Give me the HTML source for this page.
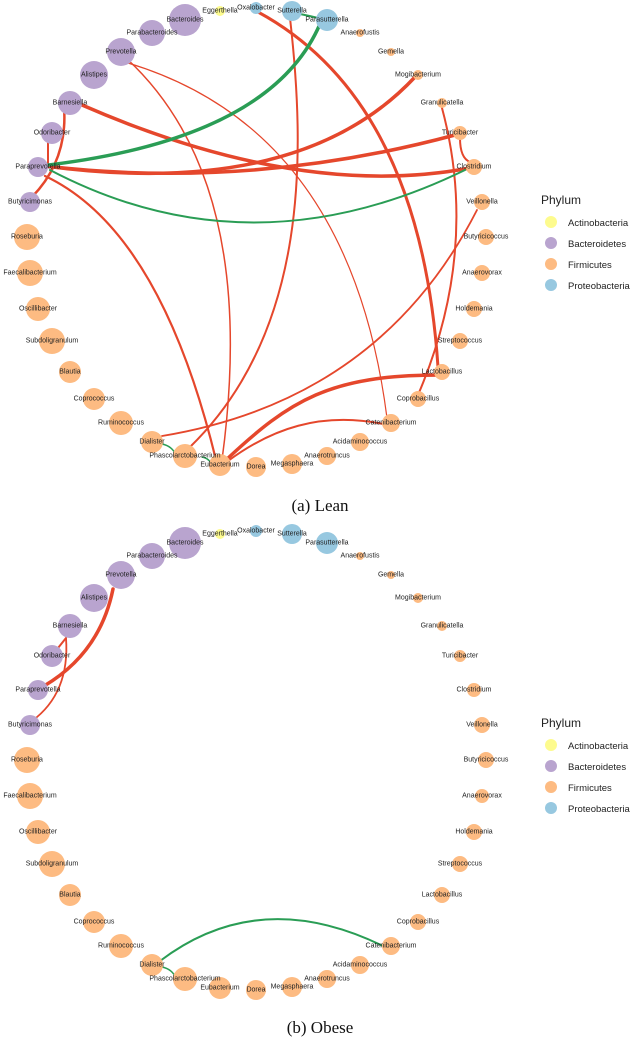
<!DOCTYPE html>
<html><head><meta charset="utf-8"><style>
html,body{margin:0;padding:0;background:#fff;}
svg{display:block;}
.l{font-family:"Liberation Sans",sans-serif;font-size:7px;fill:#222;text-anchor:middle;dominant-baseline:central;}
.r{fill:none;stroke:#e5472c;stroke-linecap:round;}
.g{fill:none;stroke:#2a9d55;stroke-linecap:round;}
.B{fill:#b9a4cf;} .F{fill:#fdbb82;} .P{fill:#97c8e0;} .A{fill:#fdfb8e;}
.leg{font-family:"Liberation Sans",sans-serif;font-size:9.5px;fill:#222;}
.cap{font-family:"Liberation Serif",serif;font-size:17px;fill:#111;text-anchor:middle;}
</style></head><body>
<svg width="640" height="1040" viewBox="0 0 640 1040" xmlns="http://www.w3.org/2000/svg">
<!-- TOP edges -->
<g>
<path class="r" stroke-width="1.5" d="M125,57 Q260,180 222,460"/>
<path class="r" stroke-width="1.2" d="M128,63 Q350,130 387,418"/>
<path class="r" stroke-width="2" d="M290,18 C305,150 310,330 190,447"/>
<path class="r" stroke-width="3" d="M258,12 Q420,100 438,367"/>
<path class="r" stroke-width="2" d="M442,108 Q480,250 418,395"/>
<path class="r" stroke-width="2" d="M460,138 Q460,158 470,162"/>
<path class="r" stroke-width="1.8" d="M477,210 Q380,400 162,436"/>
<path class="r" stroke-width="3.5" d="M226,460 C290,400 330,375 440,375"/>
<path class="r" stroke-width="2" d="M228,461 C270,430 320,410 388,425"/>
<path class="r" stroke-width="2.2" d="M45,176 Q160,230 216,460"/>
<path class="r" stroke-width="3.5" d="M82,105 Q300,200 470,168"/>
<path class="r" stroke-width="3.5" d="M45,166 Q250,190 455,135"/>
<path class="r" stroke-width="3.5" d="M45,166 Q300,200 415,77"/>
<path class="r" stroke-width="2.5" d="M64,107 Q68,160 32,197"/>
<path class="r" stroke-width="2" d="M48,142 L48,163"/>
<path class="g" stroke-width="3.5" d="M40,166 Q270,140 320,24"/>
<path class="g" stroke-width="2" d="M50,170 Q250,275 465,170"/>
<path class="g" stroke-width="1.5" d="M162,444 Q172,446 176,455"/>
<path class="g" stroke-width="1.5" d="M202,457 Q208,458 211,463"/>
<path class="g" stroke-width="2" d="M300,14 Q310,16 318,18"/>
</g>
<!-- TOP nodes -->
<g>
<circle class="B" cx="185" cy="20" r="16"/><circle class="A" cx="220" cy="11" r="5"/>
<circle class="P" cx="256" cy="8" r="6"/><circle class="P" cx="292" cy="11" r="10"/>
<circle class="P" cx="327" cy="20" r="11"/><circle class="F" cx="360" cy="33" r="4"/>
<circle class="F" cx="391" cy="52" r="4"/><circle class="F" cx="418" cy="75" r="5"/>
<circle class="F" cx="442" cy="103" r="5"/><circle class="F" cx="460" cy="133" r="7"/>
<circle class="F" cx="474" cy="167" r="8"/><circle class="F" cx="482" cy="202" r="8"/>
<circle class="F" cx="486" cy="237" r="8"/><circle class="F" cx="482" cy="273" r="8"/>
<circle class="F" cx="474" cy="309" r="8"/><circle class="F" cx="460" cy="341" r="8"/>
<circle class="F" cx="442" cy="372" r="8"/><circle class="F" cx="418" cy="399" r="8"/>
<circle class="F" cx="391" cy="423" r="9"/><circle class="F" cx="360" cy="442" r="9"/>
<circle class="F" cx="327" cy="456" r="9"/><circle class="F" cx="292" cy="464" r="10"/>
<circle class="F" cx="256" cy="467" r="10"/><circle class="F" cx="220" cy="465" r="11"/>
<circle class="F" cx="185" cy="456" r="12"/><circle class="F" cx="152" cy="442" r="11"/>
<circle class="F" cx="121" cy="423" r="12"/><circle class="F" cx="94" cy="399" r="11"/>
<circle class="F" cx="70" cy="372" r="11"/><circle class="F" cx="52" cy="341" r="13"/>
<circle class="F" cx="38" cy="309" r="12"/><circle class="F" cx="30" cy="273" r="13"/>
<circle class="F" cx="27" cy="237" r="13"/><circle class="B" cx="30" cy="202" r="10"/>
<circle class="B" cx="38" cy="167" r="10"/><circle class="B" cx="52" cy="133" r="11"/>
<circle class="B" cx="70" cy="103" r="12"/><circle class="B" cx="94" cy="75" r="14"/>
<circle class="B" cx="121" cy="52" r="14"/><circle class="B" cx="152" cy="33" r="13"/>
</g>
<g>
<text class="l" x="185" y="20">Bacteroides</text><text class="l" x="220" y="11">Eggerthella</text>
<text class="l" x="256" y="8">Oxalobacter</text><text class="l" x="292" y="11">Sutterella</text>
<text class="l" x="327" y="20">Parasutterella</text><text class="l" x="360" y="33">Anaerofustis</text>
<text class="l" x="391" y="52">Gemella</text><text class="l" x="418" y="75">Mogibacterium</text>
<text class="l" x="442" y="103">Granulicatella</text><text class="l" x="460" y="133">Turicibacter</text>
<text class="l" x="474" y="167">Clostridium</text><text class="l" x="482" y="202">Veillonella</text>
<text class="l" x="486" y="237">Butyricicoccus</text><text class="l" x="482" y="273">Anaerovorax</text>
<text class="l" x="474" y="309">Holdemania</text><text class="l" x="460" y="341">Streptococcus</text>
<text class="l" x="442" y="372">Lactobacillus</text><text class="l" x="418" y="399">Coprobacillus</text>
<text class="l" x="391" y="423">Catenibacterium</text><text class="l" x="360" y="442">Acidaminococcus</text>
<text class="l" x="327" y="456">Anaerotruncus</text><text class="l" x="292" y="464">Megasphaera</text>
<text class="l" x="256" y="467">Dorea</text><text class="l" x="220" y="465">Eubacterium</text>
<text class="l" x="185" y="456">Phascolarctobacterium</text><text class="l" x="152" y="442">Dialister</text>
<text class="l" x="121" y="423">Ruminococcus</text><text class="l" x="94" y="399">Coprococcus</text>
<text class="l" x="70" y="372">Blautia</text><text class="l" x="52" y="341">Subdoligranulum</text>
<text class="l" x="38" y="309">Oscillibacter</text><text class="l" x="30" y="273">Faecalibacterium</text>
<text class="l" x="27" y="237">Roseburia</text><text class="l" x="30" y="202">Butyricimonas</text>
<text class="l" x="38" y="167">Paraprevotella</text><text class="l" x="52" y="133">Odoribacter</text>
<text class="l" x="70" y="103">Barnesiella</text><text class="l" x="94" y="75">Alistipes</text>
<text class="l" x="121" y="52">Prevotella</text><text class="l" x="152" y="33">Parabacteroides</text>
</g>
<!-- legend top -->
<text class="leg" x="541" y="204" style="font-size:12px">Phylum</text>
<circle class="A" cx="551" cy="222" r="6"/><text class="leg" x="568" y="226">Actinobacteria</text>
<circle class="B" cx="551" cy="243" r="6"/><text class="leg" x="568" y="247">Bacteroidetes</text>
<circle class="F" cx="551" cy="264" r="6"/><text class="leg" x="568" y="268">Firmicutes</text>
<circle class="P" cx="551" cy="285" r="6"/><text class="leg" x="568" y="289">Proteobacteria</text>
<text class="cap" x="320" y="511">(a) Lean</text>

<!-- BOTTOM -->
<g transform="translate(0,523)">
<path class="r" stroke-width="3.5" d="M113,66 Q100,130 44,163"/>
<path class="r" stroke-width="2" d="M66,115 Q62,120 58,125"/>
<path class="r" stroke-width="1.8" d="M66,115 Q70,170 32,198"/>
<path class="g" stroke-width="2" d="M160,438 Q260,362 385,424"/>
<path class="g" stroke-width="1.5" d="M162,444 Q172,446 176,455"/>
<circle class="B" cx="185" cy="20" r="16"/><circle class="A" cx="220" cy="11" r="5"/>
<circle class="P" cx="256" cy="8" r="6"/><circle class="P" cx="292" cy="11" r="10"/>
<circle class="P" cx="327" cy="20" r="11"/><circle class="F" cx="360" cy="33" r="4"/>
<circle class="F" cx="391" cy="52" r="4"/><circle class="F" cx="418" cy="75" r="5"/>
<circle class="F" cx="442" cy="103" r="5"/><circle class="F" cx="460" cy="133" r="6"/>
<circle class="F" cx="474" cy="167" r="7"/><circle class="F" cx="482" cy="202" r="8"/>
<circle class="F" cx="486" cy="237" r="8"/><circle class="F" cx="482" cy="273" r="7"/>
<circle class="F" cx="474" cy="309" r="8"/><circle class="F" cx="460" cy="341" r="8"/>
<circle class="F" cx="442" cy="372" r="8"/><circle class="F" cx="418" cy="399" r="8"/>
<circle class="F" cx="391" cy="423" r="9"/><circle class="F" cx="360" cy="442" r="9"/>
<circle class="F" cx="327" cy="456" r="9"/><circle class="F" cx="292" cy="464" r="10"/>
<circle class="F" cx="256" cy="467" r="10"/><circle class="F" cx="220" cy="465" r="11"/>
<circle class="F" cx="185" cy="456" r="12"/><circle class="F" cx="152" cy="442" r="11"/>
<circle class="F" cx="121" cy="423" r="12"/><circle class="F" cx="94" cy="399" r="11"/>
<circle class="F" cx="70" cy="372" r="11"/><circle class="F" cx="52" cy="341" r="13"/>
<circle class="F" cx="38" cy="309" r="12"/><circle class="F" cx="30" cy="273" r="13"/>
<circle class="F" cx="27" cy="237" r="13"/><circle class="B" cx="30" cy="202" r="10"/>
<circle class="B" cx="38" cy="167" r="10"/><circle class="B" cx="52" cy="133" r="11"/>
<circle class="B" cx="70" cy="103" r="12"/><circle class="B" cx="94" cy="75" r="14"/>
<circle class="B" cx="121" cy="52" r="14"/><circle class="B" cx="152" cy="33" r="13"/>
<text class="l" x="185" y="20">Bacteroides</text><text class="l" x="220" y="11">Eggerthella</text>
<text class="l" x="256" y="8">Oxalobacter</text><text class="l" x="292" y="11">Sutterella</text>
<text class="l" x="327" y="20">Parasutterella</text><text class="l" x="360" y="33">Anaerofustis</text>
<text class="l" x="391" y="52">Gemella</text><text class="l" x="418" y="75">Mogibacterium</text>
<text class="l" x="442" y="103">Granulicatella</text><text class="l" x="460" y="133">Turicibacter</text>
<text class="l" x="474" y="167">Clostridium</text><text class="l" x="482" y="202">Veillonella</text>
<text class="l" x="486" y="237">Butyricicoccus</text><text class="l" x="482" y="273">Anaerovorax</text>
<text class="l" x="474" y="309">Holdemania</text><text class="l" x="460" y="341">Streptococcus</text>
<text class="l" x="442" y="372">Lactobacillus</text><text class="l" x="418" y="399">Coprobacillus</text>
<text class="l" x="391" y="423">Catenibacterium</text><text class="l" x="360" y="442">Acidaminococcus</text>
<text class="l" x="327" y="456">Anaerotruncus</text><text class="l" x="292" y="464">Megasphaera</text>
<text class="l" x="256" y="467">Dorea</text><text class="l" x="220" y="465">Eubacterium</text>
<text class="l" x="185" y="456">Phascolarctobacterium</text><text class="l" x="152" y="442">Dialister</text>
<text class="l" x="121" y="423">Ruminococcus</text><text class="l" x="94" y="399">Coprococcus</text>
<text class="l" x="70" y="372">Blautia</text><text class="l" x="52" y="341">Subdoligranulum</text>
<text class="l" x="38" y="309">Oscillibacter</text><text class="l" x="30" y="273">Faecalibacterium</text>
<text class="l" x="27" y="237">Roseburia</text><text class="l" x="30" y="202">Butyricimonas</text>
<text class="l" x="38" y="167">Paraprevotella</text><text class="l" x="52" y="133">Odoribacter</text>
<text class="l" x="70" y="103">Barnesiella</text><text class="l" x="94" y="75">Alistipes</text>
<text class="l" x="121" y="52">Prevotella</text><text class="l" x="152" y="33">Parabacteroides</text>
<text class="leg" x="541" y="204" style="font-size:12px">Phylum</text>
<circle class="A" cx="551" cy="222" r="6"/><text class="leg" x="568" y="226">Actinobacteria</text>
<circle class="B" cx="551" cy="243" r="6"/><text class="leg" x="568" y="247">Bacteroidetes</text>
<circle class="F" cx="551" cy="264" r="6"/><text class="leg" x="568" y="268">Firmicutes</text>
<circle class="P" cx="551" cy="285" r="6"/><text class="leg" x="568" y="289">Proteobacteria</text>
</g>
<text class="cap" x="320" y="1033">(b) Obese</text>
</svg>
</body></html>
